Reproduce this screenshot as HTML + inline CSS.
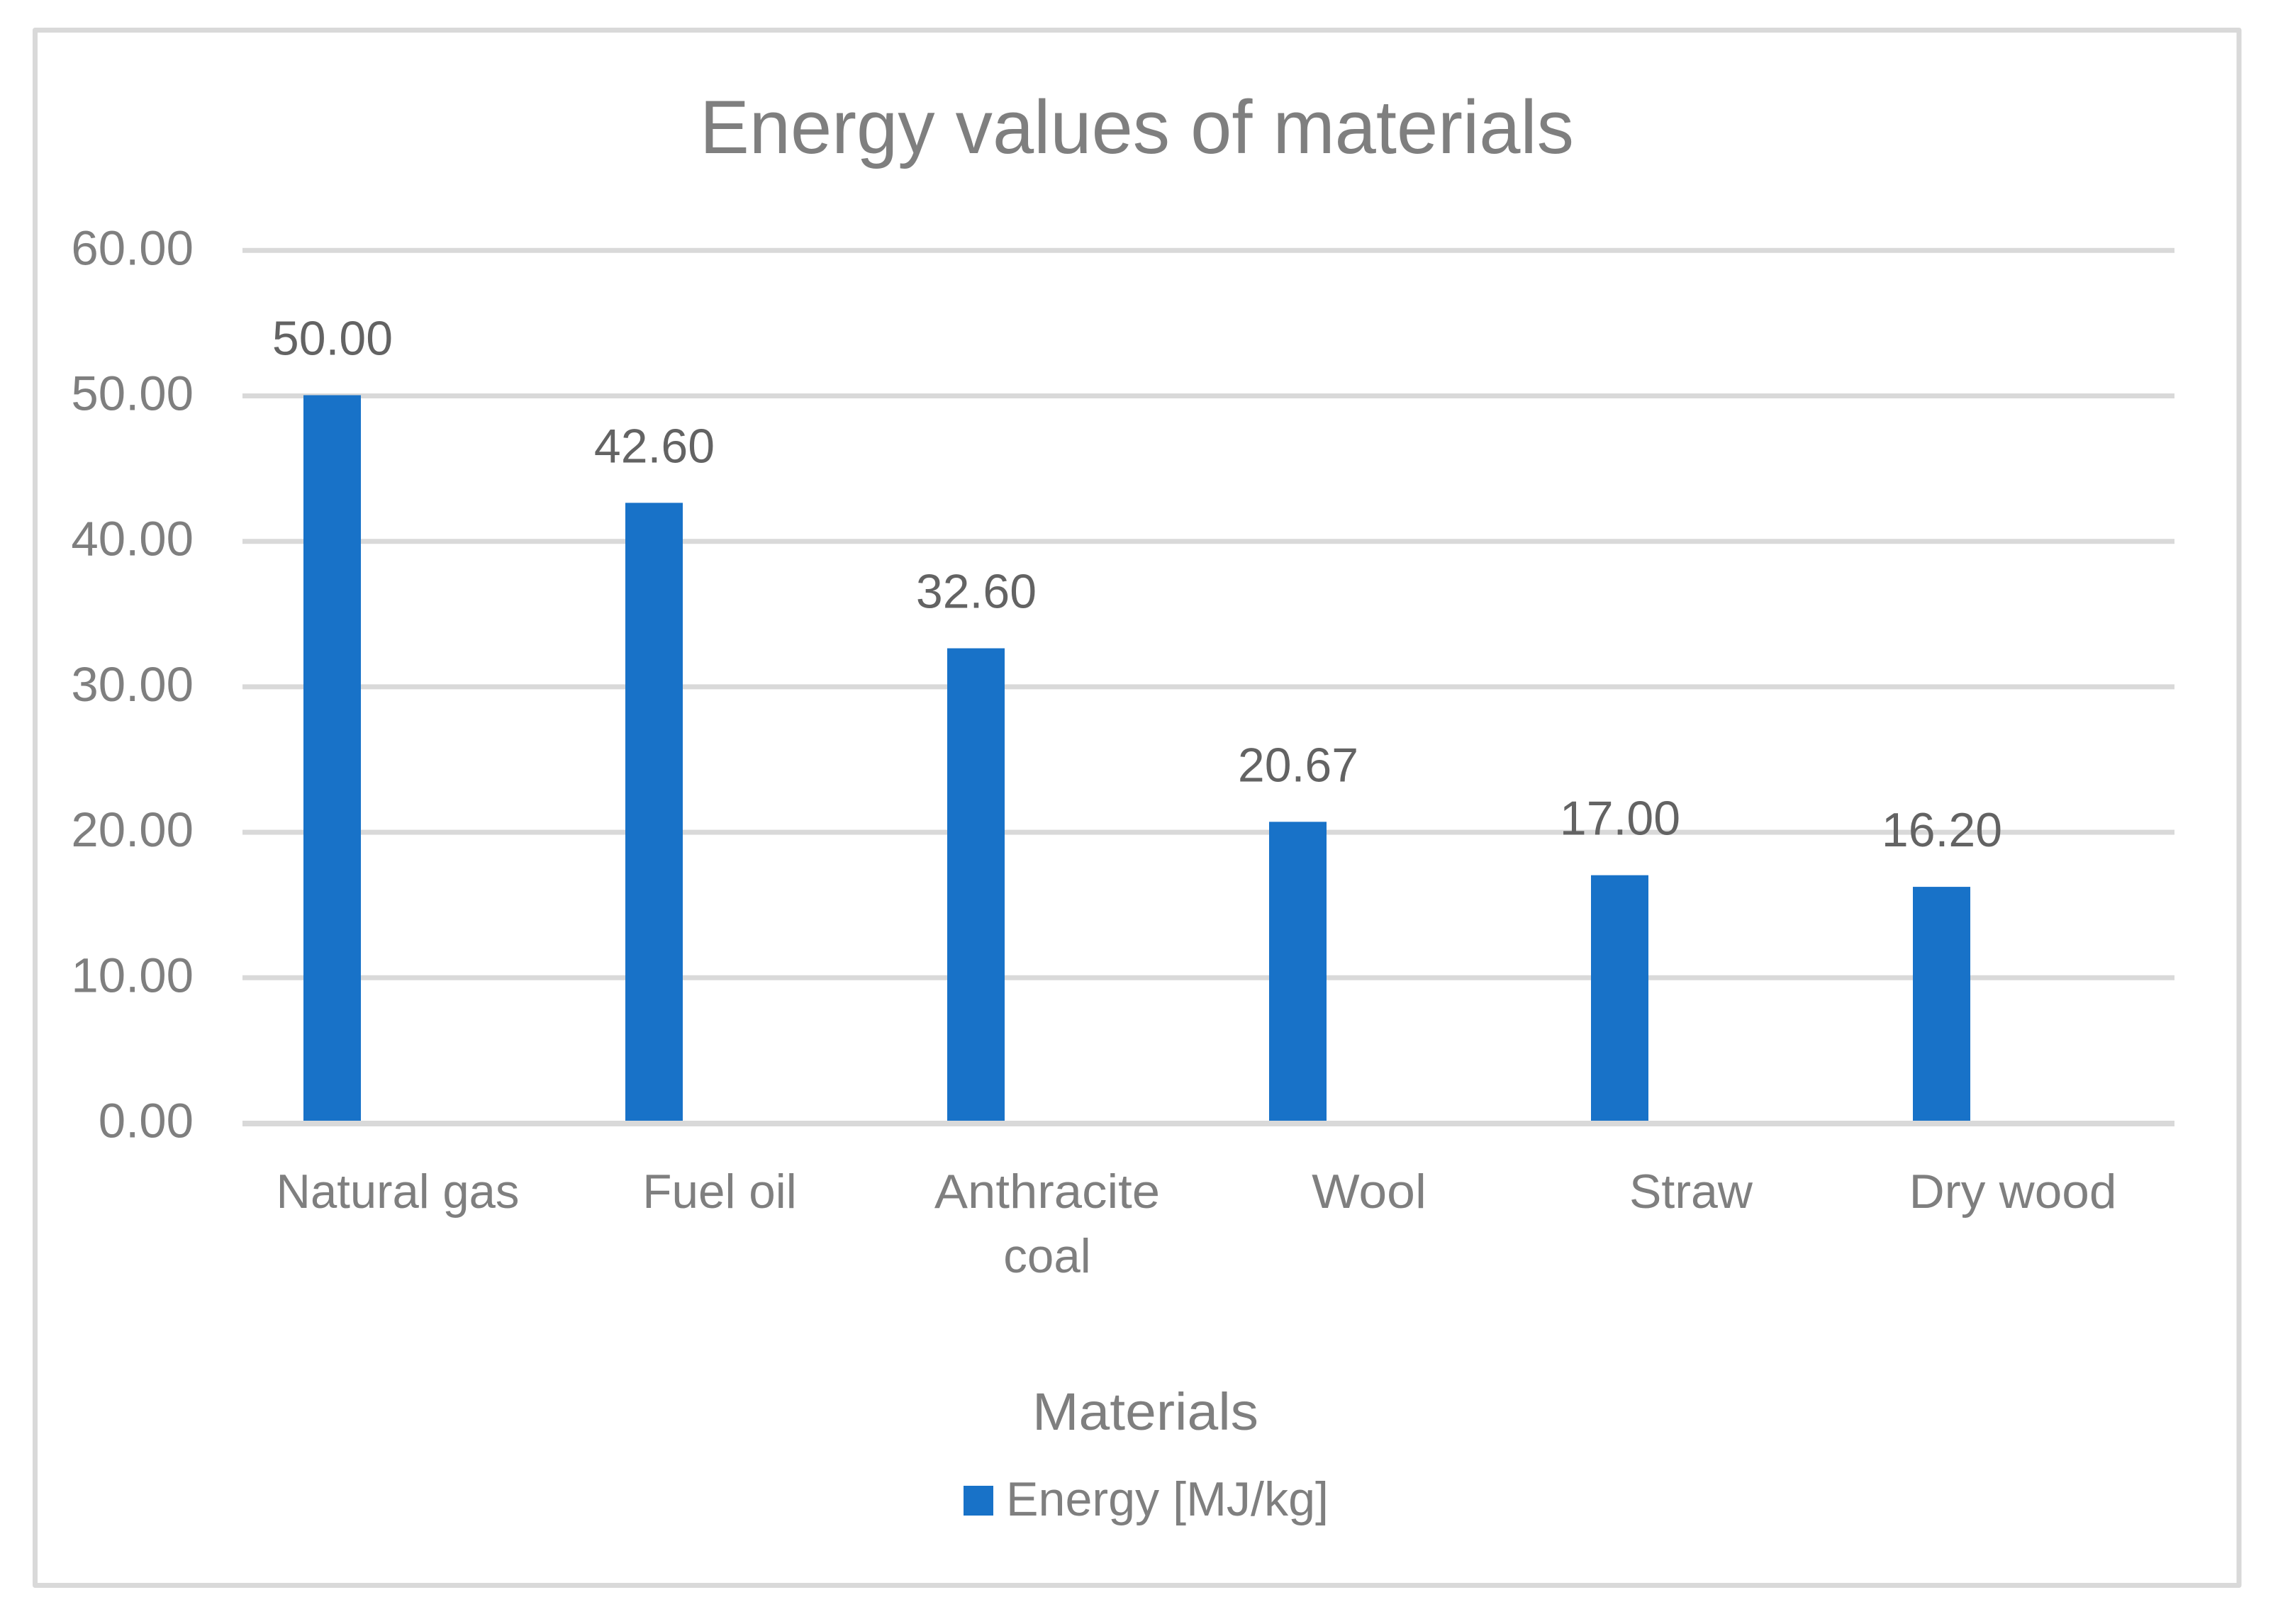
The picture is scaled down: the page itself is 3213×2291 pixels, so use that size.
<!DOCTYPE html>
<html lang="en">
<head>
<meta charset="utf-8">
<title>Energy values of materials</title>
<style>
  html, body { margin: 0; padding: 0; background: #ffffff; }
  svg { display: block; }
  text { font-family: "Liberation Sans", sans-serif; }
</style>
</head>
<body>
<svg id="chart" xmlns="http://www.w3.org/2000/svg" width="3213" height="2291" viewBox="0 0 3213 2291">
  <rect x="0" y="0" width="3213" height="2291" fill="#ffffff"/>
  <rect x="49.5" y="42.5" width="3108.5" height="2194" fill="#ffffff" stroke="#d9d9d9" stroke-width="7" stroke-linejoin="round"/>
  <text x="1603.5" y="216" text-anchor="middle" font-size="107" fill="#7f7f7f" textLength="1233" lengthAdjust="spacingAndGlyphs">Energy values of materials</text>
  <g id="grid"></g>
  <g id="yticks"></g>
  <g id="bars"></g>
  <g id="axis"></g>
  <g id="values"></g>
  <g id="cats"></g>
  <text x="1615.5" y="2017" text-anchor="middle" font-size="74" fill="#7f7f7f" textLength="319" lengthAdjust="spacingAndGlyphs">Materials</text>
  <g>
    <rect x="1359" y="2096" width="42" height="42" fill="#1872c8"/>
    <text x="1419" y="2138" font-size="68" fill="#7f7f7f" textLength="455" lengthAdjust="spacingAndGlyphs">Energy [MJ/kg]</text>
  </g>
</svg>
<script>
const categories = ["Natural gas", "Fuel oil", "Anthracite coal", "Wool", "Straw", "Dry wood"];
const energyValues = [50.00, 42.60, 32.60, 20.67, 17.00, 16.20];
const yTicks = [0, 10, 20, 30, 40, 50, 60];
const yTickLabels = ["0.00", "10.00", "20.00", "30.00", "40.00", "50.00", "60.00"];

const NS = "http://www.w3.org/2000/svg";
const plotLeft = 342, plotRight = 3067;
const zeroY = 1584.5, topY = 353.3, yMax = 60;
const bandW = 454;
const barW = 81, barOffset = 86;

function yScale(v) { return zeroY - (v / yMax) * (zeroY - topY); }
function bandStart(i) { return plotLeft + i * bandW; }

/* Advance widths of the reference typeface, used to size the substituted font */
const glyphAdvance = { N:.646,F:.459,A:.579,W:.890,S:.459,D:.615,a:.479,c:.423,d:.525,e:.498,g:.471,h:.525,i:.229,l:.229,n:.525,o:.527,r:.349,s:.391,t:.335,u:.525,w:.715,y:.452," ":.226 };
function labelWidth(s) {
  let w = 0;
  for (const ch of s) w += (glyphAdvance[ch] || .5);
  return w * 74.4;
}

function make(tag, parent, attrs) {
  const el = document.createElementNS(NS, tag);
  for (const k in attrs) el.setAttribute(k, attrs[k]);
  parent.appendChild(el);
  return el;
}

const gridG = document.getElementById("grid");
const tickG = document.getElementById("yticks");
yTicks.forEach(function (t, i) {
  const y = yScale(t);
  if (t !== 0) {
    const line = make("line", gridG, { x1: plotLeft, x2: plotRight, y1: y, y2: y, stroke: "#d9d9d9", "stroke-width": 7 });
    
    
  }
  const label = make("text", tickG, { x: 273, y: y + 20, "text-anchor": "end", "font-size": 69, fill: "#7f7f7f" });
  
  
  label.textContent = yTickLabels[i];
});

const barsG = document.getElementById("bars");
const valuesG = document.getElementById("values");
const catsG = document.getElementById("cats");
categories.forEach(function (name, i) {
  const v = energyValues[i];
  const x = bandStart(i) + barOffset;
  const top = yScale(v) - 1;

  const bar = make("rect", barsG, { x: x, y: top, width: barW, height: zeroY - top, fill: "#1872c8" });
  
  

  const val = make("text", valuesG, { x: x + barW / 2 + 0.5, y: top - 57, "text-anchor": "middle", "font-size": 68, fill: "#636363" });
  
  
  val.textContent = v.toFixed(2);

  const cx = bandStart(i) + bandW / 2 + (i < 2 ? -8 : 0);
  const lines = labelWidth(name) > 400 ? name.split(" ") : [name];
  lines.forEach(function (ln, j) {
    const cat = make("text", catsG, { x: cx, y: 1704 + j * 91, "text-anchor": "middle", "font-size": 68, fill: "#7f7f7f", textLength: labelWidth(ln).toFixed(1), lengthAdjust: "spacingAndGlyphs" });
    
    
    cat.textContent = ln;
  });
});

const axisLine = make("line", document.getElementById("axis"), { x1: plotLeft, x2: plotRight, y1: 1585, y2: 1585, stroke: "#d9d9d9", "stroke-width": 8 });


</script>
</body>
</html>
